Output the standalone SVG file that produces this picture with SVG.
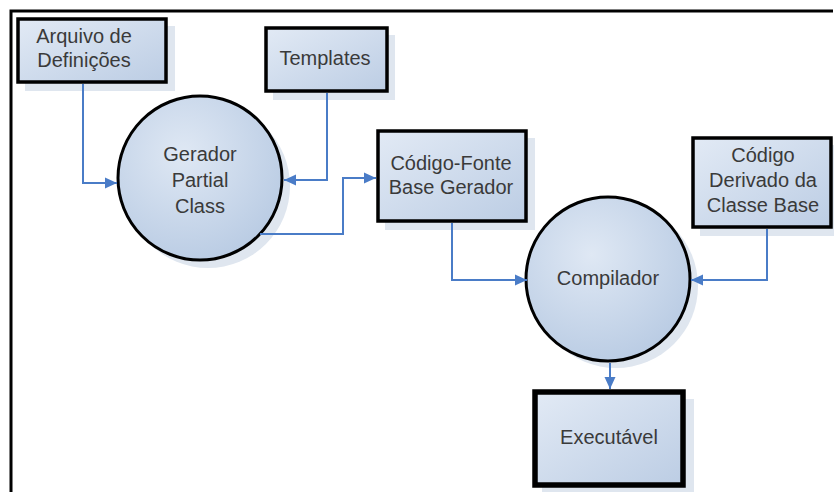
<svg xmlns="http://www.w3.org/2000/svg" width="834" height="492" viewBox="0 0 834 492">
<defs>
<linearGradient id="fill" x1="0" y1="0" x2="1" y2="1">
<stop offset="0" stop-color="#e2eaf5"/>
<stop offset="1" stop-color="#bccde4"/>
</linearGradient>
<radialGradient id="cfill" cx="0.4" cy="0.35" r="0.75">
<stop offset="0" stop-color="#dfe8f4"/>
<stop offset="1" stop-color="#b6c9e2"/>
</radialGradient>
<marker id="arr" viewBox="0 0 12 12" refX="12" refY="6" markerWidth="12" markerHeight="12" markerUnits="userSpaceOnUse" orient="auto">
<path d="M0,0.5 L12,6 L0,11.5 z" fill="#4a7cc7"/>
</marker>
</defs>
<style>
.box{fill:url(#fill);stroke:#000;stroke-width:3.5}
.thick{stroke-width:5.5}
.circ{fill:url(#cfill);stroke:#000;stroke-width:3}
.shadow{fill:#dfe6ef}
.t{font-family:"Liberation Sans",Arial,sans-serif;font-size:20px;fill:#3a3a3a;text-anchor:middle}
.c{fill:none;stroke:#4a7cc7;stroke-width:2}
</style>
<rect width="834" height="492" fill="#fff"/>
<path d="M11,492 V11 H833" fill="none" stroke="#000" stroke-width="3"/>

<g id="arquivo">
<rect class="shadow" x="25" y="26" width="150" height="65"/>
<rect class="box" x="18" y="19" width="148" height="63"/>
<text class="t" x="84" y="43">Arquivo de</text>
<text class="t" x="84" y="67">Definições</text>
</g>

<g id="templates">
<rect class="shadow" x="273" y="35" width="122" height="65"/>
<rect class="box" x="266" y="28" width="121" height="63"/>
<text class="t" x="325" y="65">Templates</text>
</g>

<g id="gerador">
<circle class="shadow" cx="208" cy="186" r="82"/>
<circle class="circ" cx="200" cy="178" r="82"/>
<text class="t" x="200" y="161">Gerador</text>
<text class="t" x="200" y="187">Partial</text>
<text class="t" x="200" y="213">Class</text>
</g>

<g id="codigofonte">
<rect class="shadow" x="385" y="138" width="150" height="92"/>
<rect class="box" x="378" y="131" width="148" height="90"/>
<text class="t" x="451" y="170">Código-Fonte</text>
<text class="t" x="451" y="194">Base Gerador</text>
</g>

<g id="derivado">
<rect class="shadow" x="700" y="145" width="134" height="91"/>
<rect class="box" x="693" y="138" width="138" height="89"/>
<text class="t" x="763" y="162">Código</text>
<text class="t" x="763" y="187">Derivado da</text>
<text class="t" x="763" y="212">Classe Base</text>
</g>

<g id="compilador">
<circle class="shadow" cx="616" cy="286" r="82"/>
<circle class="circ" cx="608" cy="279" r="82"/>
<text class="t" x="608" y="285">Compilador</text>
</g>

<g id="executavel">
<rect class="shadow" x="542" y="399" width="152" height="93"/>
<rect class="box thick" x="535" y="392" width="148" height="93"/>
<text class="t" x="609" y="444">Executável</text>
</g>

<g id="connectors">
<path class="c" d="M83,84 V183 H117" marker-end="url(#arr)"/>
<path class="c" d="M327,93 V180 H284" marker-end="url(#arr)"/>
<path class="c" d="M260,234 H343 V178 H376" marker-end="url(#arr)"/>
<path class="c" d="M452,223 V280 H527" marker-end="url(#arr)"/>
<path class="c" d="M767,229 V280 H691" marker-end="url(#arr)"/>
<path class="c" d="M610,363 V389" marker-end="url(#arr)"/>
</g>
</svg>
